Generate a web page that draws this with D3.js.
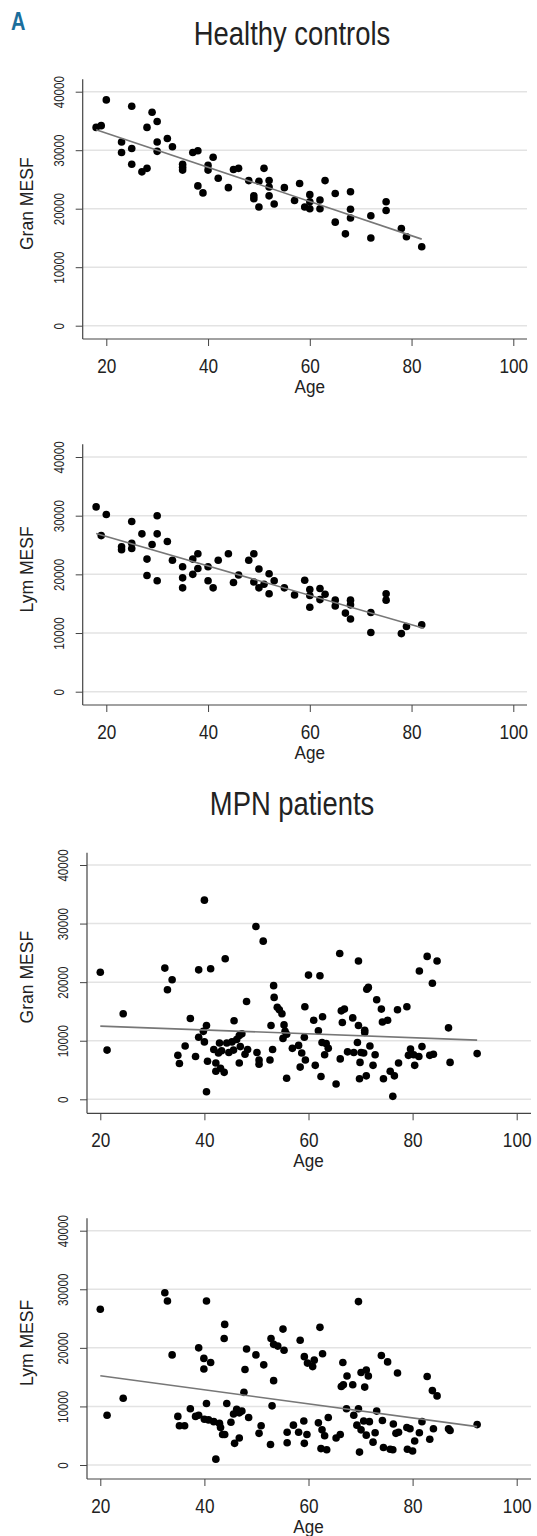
<!DOCTYPE html>
<html>
<head>
<meta charset="utf-8">
<script src="https://cdn.jsdelivr.net/npm/d3@7"></script>
<style>
  body { margin: 0; background: #fff; }
  svg text { font-family: "Liberation Sans", Arial, sans-serif; fill: #222; }
</style>
</head>
<body>
<div id="chart"></div>
<script>
// tick labels
const ageTicks = [20, 40, 60, 80, 100];
const mesfTicks = [0, 10000, 20000, 30000, 40000];

// healthy controls [age, MESF]
const hcGran = [
  [18,33900],[19,34200],[20,38600],[23,31400],[23,29600],[25,37500],[25,30300],[25,27600],[27,26300],[28,26900],
  [28,33900],[29,36500],[30,34900],[30,31400],[30,29800],[32,32000],[33,30600],[35,27600],[35,27100],[35,26600],
  [37,29600],[38,29900],[38,23900],[39,22700],[40,27400],[40,26600],[41,28800],[42,25200],[44,23600],[45,26700],
  [46,26900],[48,24800],[49,22200],[49,21700],[50,24700],[50,20300],[51,26900],[52,24800],[52,23700],[52,22200],
  [53,20800],[55,23600],[57,21400],[58,24300],[59,20300],[60,22400],[60,21200],[60,20000],[62,21500],[62,20000],
  [63,24800],[65,22600],[65,17700],[67,15700],[68,22900],[68,19900],[68,18400],[72,18800],[72,15000],[75,21200],
  [75,19700],[78,16600],[79,15200],[82,13500]
];
const hcLym = [
  [18,31500],[19,26600],[20,30200],[23,24700],[23,24200],[25,29000],[25,25300],[25,24400],[27,26900],[28,22600],
  [28,19800],[29,25100],[30,30000],[30,26900],[30,18900],[32,25600],[33,22400],[35,21300],[35,19400],[35,17700],
  [37,22600],[37,20000],[38,23500],[38,21000],[40,21300],[40,18900],[41,17700],[42,22400],[44,23500],[45,18600],
  [46,19900],[48,22400],[49,23500],[49,18700],[50,20900],[50,17700],[51,18300],[52,20100],[52,16700],[53,18900],
  [55,17700],[57,16500],[59,19000],[60,17400],[60,16400],[60,14400],[62,17600],[62,15700],[63,16600],[65,15600],
  [65,14600],[67,13400],[68,15600],[68,14800],[68,12400],[72,13500],[72,10100],[75,16700],[75,15600],[78,9900],
  [79,11100],[82,11400]
];

// MPN patients [age, MESF]
const mpnGran = [
  [20.0,21700],[21.3,8400],[24.4,14600],[32.4,22400],[33.8,20400],[32.9,18700],[34.9,7500],[35.2,6100],[36.3,9100],[37.3,13800],
  [38.3,7300],[38.9,22100],[40.0,34000],[41.2,22300],[40.4,12600],[39.8,11600],[38.9,10600],[40.0,9800],[40.6,6500],[40.4,1300],
  [41.8,8500],[42.9,9600],[44.0,24000],[42.7,7900],[42.2,6200],[42.2,4800],[43.1,5300],[43.8,4600],[43.3,8300],[44.3,9600],
  [44.7,8000],[45.3,9800],[45.7,13400],[46.2,10200],[46.7,10900],[47.2,11200],[45.6,8400],[46.9,9000],[48.1,16700],[48.3,8500],
  [47.8,7700],[46.7,6200],[49.9,29500],[51.3,27000],[50.1,8000],[50.5,6700],[50.5,6000],[52.8,12600],[53.1,8500],[52.6,6700],
  [53.3,19400],[53.4,17400],[54.0,15700],[54.4,15300],[54.9,14600],[55.3,12700],[55.5,11600],[55.8,11100],[55.1,10400],[55.8,3600],
  [56.9,8700],[58.1,9200],[58.4,5500],[59.3,15800],[60.0,21200],[59.2,10600],[58.7,7900],[59.4,6700],
  [62.2,21100],[66.0,24900],[69.6,23600],[71.2,18800],[71.5,19100],[73.1,17000],[74.0,15400],[75.2,13500],[74.2,13200],[77.1,15300],
  [78.9,15800],[81.3,21900],[82.8,24400],[84.7,23600],[83.8,19800],[86.9,12200],[92.4,7800],[87.2,6300],[66.3,15100],[66.9,15400],
  [66.5,13100],[68.5,13900],[69.6,12600],[70.8,11800],[70.8,11400],[61.0,13500],[62.7,14100],[61.9,11700],[62.6,9700],[63.4,9500],
  [63.8,8700],[63.1,7600],[61.3,5800],[62.4,3900],[65.3,2600],[66.1,6900],[67.5,8100],[68.7,8000],[69.4,9700],[70.1,8000],
  [70.6,7900],[69.9,6300],[71.8,9100],[72.8,7600],[72.4,5800],[69.8,3500],[71.1,4000],[74.4,3500],[76.2,500],[75.7,4800],
  [76.5,4000],[77.3,6200],[79.6,8600],[79.2,7500],[80.2,7600],[81.2,7300],[80.4,5800],[81.8,9000],[83.3,7500],[84.0,7700]
];
const mpnLym = [
  [20.0,26600],[21.3,8500],[24.4,11400],[32.4,29400],[32.9,28000],[33.8,18800],[34.9,8300],[35.2,6700],[36.2,6700],[37.3,9600],
  [38.3,8300],[38.9,8500],[38.9,20000],[39.9,18200],[39.9,16400],[41.2,17500],[40.4,28000],[40.4,10500],[40.0,7800],[40.8,7700],
  [41.8,7400],[42.2,1000],[42.9,7100],[43.1,6400],[43.5,5200],[43.9,5200],[43.9,24000],[43.8,21600],[44.3,10500],[45.1,7300],
  [45.6,8700],[46.2,9500],[46.7,8900],[47.2,9200],[47.6,12400],[47.8,16300],[48.1,19800],[48.5,8100],[46.7,4600],[45.8,3700],
  [49.9,18800],[51.4,17100],[50.9,6700],[50.5,5400],[52.8,21600],[53.3,20600],[54.1,20300],[55.3,19600],[55.1,23200],[53.3,14400],
  [53.0,10100],[52.7,3500],[55.9,5600],[55.9,3800],[57.1,6800],[58.4,21300],[59.2,18500],[59.8,17400],[58.1,5600],[59.1,7500],
  [59.2,3700],[59.7,5200],
  [62.2,23500],[62.7,19000],[61.1,17900],[60.8,16800],[66.6,17500],[67.4,15200],[66.3,13400],[66.7,13700],[68.5,13700],[70.1,15800],
  [71.1,16200],[71.5,15200],[70.8,13300],[69.6,27900],[74.0,18700],[75.2,17600],[77.1,15700],[82.8,15100],[83.8,12700],[84.7,11800],
  [92.4,6900],[67.3,9600],[69.6,9600],[68.7,8500],[73.1,9200],[74.2,7600],[63.8,8100],[61.9,7200],[62.6,6000],[63.1,5000],
  [62.4,2800],[63.5,2600],[65.3,4600],[66.1,5200],[69.3,6800],[70.6,7500],[71.7,7400],[70.1,6000],[71.1,5100],[72.8,5500],
  [72.4,3900],[69.8,2200],[74.4,3000],[75.7,2700],[76.2,2600],[76.3,7000],[76.8,5400],[77.3,5600],[78.9,6400],[79.5,6200],
  [81.3,5500],[80.4,4100],[79.0,2700],[80.0,2400],[81.8,7400],[83.3,4400],[84.0,6200],[86.9,6200],[87.2,5900]
];

// fitted lines, end points
const hcGranFit = [[18, 33500], [82, 14800]];
const hcLymFit = [[18, 26950], [82.4, 10800]];
const mpnGranFit = [[20, 12500], [92.4, 10100]];
const mpnLymFit = [[20, 15250], [92.4, 6550]];

const width = 537;
const height = 1536;

const svg = d3.select("#chart")
  .append("svg")
  .attr("width", width)
  .attr("height", height);

// narrow text: squeeze along the baseline
function narrow(x, y, rot, f) {
  return "translate(" + x + "," + y + ")" + (rot ? " rotate(" + rot + ")" : "") + " scale(" + f + ",1)";
}

svg.append("text")
  .attr("transform", narrow(11, 30, 0, 0.8))
  .attr("font-size", "25px")
  .attr("font-weight", "bold")
  .style("fill", "#1b6e9c")
  .text("A");

svg.append("text").attr("transform", narrow(292, 45, 0, 0.83)).attr("text-anchor", "middle")
  .attr("font-size", "33px").text("Healthy controls");
svg.append("text").attr("transform", narrow(292, 815, 0, 0.83)).attr("text-anchor", "middle")
  .attr("font-size", "33px").text("MPN patients");

const panels = [
  { data: hcGran, fit: hcGranFit, label: "Gran MESF", axisX: 82.7, xr: [106.3, 513.3], yr: [325.7, 91.7], top: 79.3, bottom: 339, right: 527 },
  { data: hcLym, fit: hcLymFit, label: "Lym MESF", axisX: 82.7, xr: [106.3, 513.3], yr: [691.7, 457], top: 444.3, bottom: 705, right: 527 },
  { data: mpnGran, fit: mpnGranFit, label: "Gran MESF", axisX: 87, xr: [100.3, 516.7], yr: [1099.3, 865], top: 852.7, bottom: 1113.3, right: 531 },
  { data: mpnLym, fit: mpnLymFit, label: "Lym MESF", axisX: 87, xr: [100.3, 516.7], yr: [1465, 1230.7], top: 1218.3, bottom: 1479, right: 531 }
];

panels.forEach(function (p) {
  const x = d3.scaleLinear().domain([20, 100]).range(p.xr);
  const y = d3.scaleLinear().domain([0, 40000]).range(p.yr);
  const g = svg.append("g");

  // grid
  g.selectAll(".grid")
    .data(mesfTicks)
    .enter()
    .append("line")
    .attr("x1", p.axisX)
    .attr("x2", p.right)
    .attr("y1", (d) => y(d))
    .attr("y2", (d) => y(d))
    .attr("stroke", "#e3e3e3")
    .attr("stroke-width", 1.5);

  // y axis
  const yAxis = g.append("g")
    .attr("transform", "translate(" + p.axisX + ",0)")
    .call(d3.axisLeft(y).tickValues(mesfTicks).tickSize(7).tickSizeOuter(0).tickFormat(d3.format("d")));
  yAxis.select(".domain").remove();
  yAxis.selectAll("line").attr("stroke", "#444");
  yAxis.selectAll("text")
    .attr("x", null)
    .attr("dy", null)
    .attr("transform", narrow(-19, 0, -90, 0.8))
    .attr("text-anchor", "middle")
    .attr("font-size", "14.5px");

  // x axis
  const xAxis = g.append("g")
    .attr("transform", "translate(0," + p.bottom + ")")
    .call(d3.axisBottom(x).tickValues(ageTicks).tickSize(7).tickSizeOuter(0));
  xAxis.select(".domain").remove();
  xAxis.selectAll("line").attr("stroke", "#444");
  xAxis.selectAll("text")
    .attr("y", null)
    .attr("dy", null)
    .attr("transform", narrow(0, 33.5, 0, 0.86))
    .attr("font-size", "20px");

  g.selectAll("text").attr("font-family", null);

  // axis lines
  g.append("line")
    .attr("x1", p.axisX).attr("x2", p.axisX)
    .attr("y1", p.top).attr("y2", p.bottom)
    .attr("stroke", "#444").attr("stroke-width", 1.2);
  g.append("line")
    .attr("x1", p.axisX).attr("x2", p.right)
    .attr("y1", p.bottom).attr("y2", p.bottom)
    .attr("stroke", "#444").attr("stroke-width", 1.2);

  // axis titles
  g.append("text")
    .attr("transform", narrow(33, y(20000) - 5, -90, 0.95))
    .attr("text-anchor", "middle")
    .attr("font-size", "18.5px")
    .text(p.label);
  g.append("text")
    .attr("transform", narrow(x(60), p.bottom + 53.5, 0, 0.9))
    .attr("text-anchor", "middle")
    .attr("font-size", "19px")
    .text("Age");

  // points
  g.selectAll("circle")
    .data(p.data)
    .enter()
    .append("circle")
    .attr("cx", (d) => x(d[0]))
    .attr("cy", (d) => y(d[1]))
    .attr("r", 3.8)
    .attr("fill", "#000");

  // fitted line
  g.append("line")
    .attr("x1", x(p.fit[0][0]))
    .attr("y1", y(p.fit[0][1]))
    .attr("x2", x(p.fit[1][0]))
    .attr("y2", y(p.fit[1][1]))
    .attr("stroke", "#777")
    .attr("stroke-width", 1.6);
});
</script>
</body>
</html>
